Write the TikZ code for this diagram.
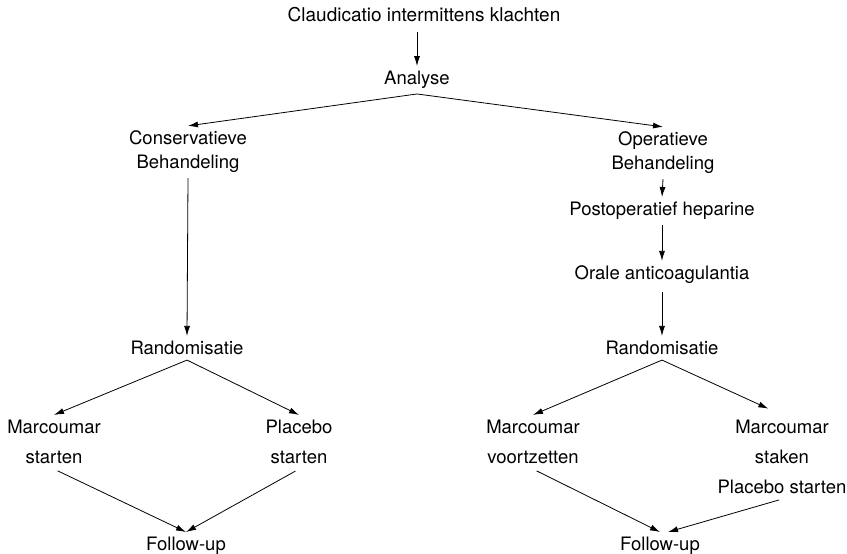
\documentclass[tikz,border=0pt]{standalone}
\usepackage{fontspec}
\setmainfont{TeX Gyre Heros}
\usetikzlibrary{arrows.meta}
\begin{document}
\begin{tikzpicture}[x=1pt, y=-1pt,
    lbl/.style={inner sep=5pt, align=center, font=\fontsize{18.5}{24}\selectfont},
    wide/.style={lbl, font=\fontsize{18.5}{30}\selectfont},
    arr/.style={-{Latex[length=10pt,width=6pt]}, line width=0.8pt}]
  \useasboundingbox (0,0) rectangle (847,554);
  % top part
  \node[lbl, font=\fontsize{19}{24}\selectfont] (klacht) at (424,15) {Claudicatio intermittens klachten};
  \node[lbl] (analyse) at (417,80) {Analyse};
  \node[lbl] (cons) at (188,152) {Conservatieve\\Behandeling};
  \node[lbl] (oper) at (663,153) {Operatieve\\Behandeling};
  \node[lbl] (hep) at (662,211) {Postoperatief heparine};
  \node[lbl] (oac) at (662,275) {Orale anticoagulantia};
  \node[lbl] (randL) at (187,348) {Randomisatie};
  \node[lbl] (randR) at (662,348) {Randomisatie};
  % randomisation arms
  \node[wide] (marcL) at (54,442) {Marcoumar\\starten};
  \node[wide] (plac) at (299,442) {Placebo\\starten};
  \node[wide] (marcV) at (533,442) {Marcoumar\\voortzetten};
  \node[wide] (marcS) at (782,457) {Marcoumar\\staken\\Placebo starten};
  \node[lbl] (fuL) at (186,546) {Follow-up};
  \node[lbl] (fuR) at (660,546) {Follow-up};

  \draw[arr, shorten <=5pt] (klacht.south -| analyse.north) -- (analyse.north);
  \draw[arr] (analyse.south) -- (cons.north);
  \draw[arr] (analyse.south) -- (oper.north);
  \draw[arr] (cons.south) -- (randL.north);
  \draw[arr] (oper.south) -- (hep.north);
  \draw[arr] (hep.south) -- (oac.north);
  \draw[arr, shorten <=3pt] (oac.south) -- (randR.north);
  \draw[arr] (randL.south) -- (marcL.north);
  \draw[arr] (randL.south) -- (plac.north);
  \draw[arr] (randR.south) -- (marcV.north);
  \draw[arr, shorten >=15pt] (randR.south) -- (marcS.north);
  \draw[arr, shorten <=4pt] (marcL.south) -- (fuL.north);
  \draw[arr, shorten <=4pt] (plac.south) -- (fuL.north);
  \draw[arr, shorten <=4pt] (marcV.south) -- (fuR.north);
  \draw[arr, shorten <=3pt] (marcS.south) -- ([xshift=8pt]fuR.north);
\end{tikzpicture}
\end{document}
